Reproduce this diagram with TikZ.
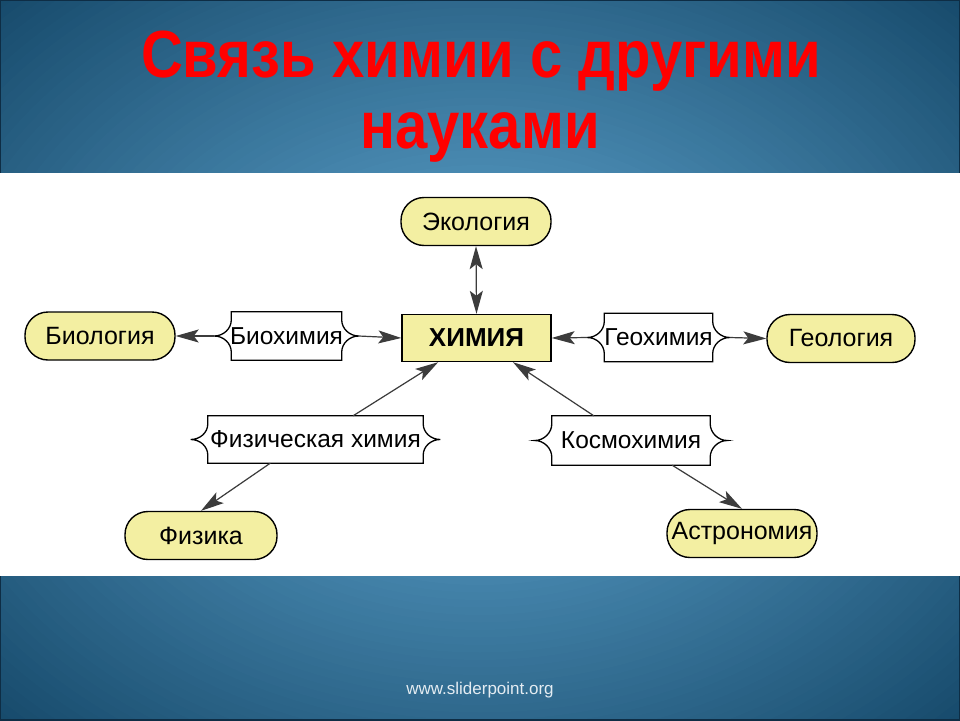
\documentclass[tikz,border=0pt]{standalone}
\usepackage{fontspec}
\setmainfont{Liberation Sans}
\usetikzlibrary{arrows.meta,calc}
\definecolor{bgA}{HTML}{4E90B8}
\definecolor{bgC}{HTML}{154869}
\definecolor{nodeyel}{HTML}{F3EFA2}
\definecolor{arrgray}{HTML}{3C3C3C}
\definecolor{footgray}{HTML}{E4ECF2}
\definecolor{frameblue}{HTML}{0E2D45}
\newcommand\bracebox[1]{%
\draw[line width=1.3pt, fill=white]
 (#1.north west) -- (#1.north east) -- ++(0,8)
 .. controls +(0,9) and +(-9,0) .. ([xshift=17pt]#1.east)
 .. controls +(-9,0) and +(0,-9) .. ($(#1.south east)+(0,-8)$)
 -- (#1.south east) -- (#1.south west) -- ++(0,-8)
 .. controls +(0,-9) and +(9,0) .. ([xshift=-17pt]#1.west)
 .. controls +(9,0) and +(0,9) .. ($(#1.north west)+(0,8)$) -- cycle;}
\begin{document}
\begin{tikzpicture}[x=1pt,y=-1pt,
  sci/.style={draw=black, line width=1.4pt, fill=nodeyel, rounded corners=23pt,
    minimum width=150pt, minimum height=48pt, inner sep=0pt,
    font=\fontsize{25}{28}\selectfont},
  chemst/.style={draw=black, line width=1.4pt, fill=nodeyel, rectangle,
    minimum width=149pt, minimum height=47pt, inner sep=0pt,
    font=\fontsize{26}{29}\selectfont\bfseries},
  brc/.style={rectangle, minimum height=48pt, inner sep=0pt,
    font=\fontsize{24.5}{28}\selectfont},
  tip/.tip={Stealth[length=23pt,width=13pt,inset=5pt]},
  arr/.style={draw=arrgray, fill=arrgray, line width=1.2pt, -tip},
  arrb/.style={draw=arrgray, fill=arrgray, line width=1.2pt, tip-tip},
  titlest/.style={anchor=base, text=red, font=\fontsize{58}{60}\selectfont\bfseries}
]
\useasboundingbox (0,0) rectangle (960,720);
\begin{scope}
\clip (0,0) rectangle (960,720);
\fill[bgC] (0,0) rectangle (960,720);
\foreach \i in {70,...,1}{
  \pgfmathsetmacro\s{\i/70}
  \pgfmathsetmacro\p{max(0,min(100,(\s-0.3)/0.7*100))}
  \fill[bgC!\p!bgA] (480,360) ellipse ({700*\s} and {525*\s});
}
\end{scope}
\draw[frameblue, line width=2pt] (0,0) rectangle (960,720);
\fill[white] (0,173) rectangle (960,576);

% title
\node[titlest] (t1) at (481,77) {\scalebox{1}[1.15]{Связь химии с другими}};
\node[titlest] (t2) at (480,148) {\scalebox{1}[1.15]{науками}};

% nodes
\node[sci] (eco) at (476,221.5) {Экология};
\node[chemst] (chem) at (476.5,338) {ХИМИЯ};
\node[sci] (bio) at (100,336) {Биология};
\node[sci, minimum width=148pt] (geo) at (841,338.5) {Геология};
\node[sci, minimum width=152pt] (fiz) at (201,535.5) {Физика};
\node[sci] (astr) at (742,533.5) {Астрономия};

\node[brc, minimum width=110pt] (bc) at (286.5,336) {};
\bracebox{bc}
\node[brc] at (bc) {Биохимия};
\node[brc, minimum width=108pt] (gc) at (658.5,337.5) {};
\bracebox{gc}
\node[brc] at (gc) {Геохимия};
\node[brc, minimum width=215pt, minimum height=47pt] (fc) at (315.5,439.5) {};
\bracebox{fc}
\node[brc] at (fc) {Физическая химия};
\node[brc, minimum width=158pt, minimum height=49pt] (kc) at (631,440.5) {};
\bracebox{kc}
\node[brc] at (kc) {Космохимия};

% connectors
\draw[arr] ([xshift=-17pt]bc.west) -- (bio.east);
\draw[arr] ([xshift=17pt]bc.east) -- (chem.west);
\draw[arr] ([xshift=-17pt]gc.west) -- (chem.east);
\draw[arr] ([xshift=17pt]gc.east) -- (geo.west);
\draw[arrb] (eco.south) -- (chem.north);
\draw[arr] (fc) -- (chem);
\draw[arr] ($(fc.south west)!0.29!(fc.south east)$) -- (fiz.north);
\draw[arr] (kc) -- (chem);
\draw[arr] ($(kc.south west)!0.76!(kc.south east)$) -- (astr.north);

% footer
\node[anchor=base, text=footgray, font=\fontsize{17}{20}\selectfont] (foot) at (480,694) {www.sliderpoint.org};
\end{tikzpicture}
\end{document}
